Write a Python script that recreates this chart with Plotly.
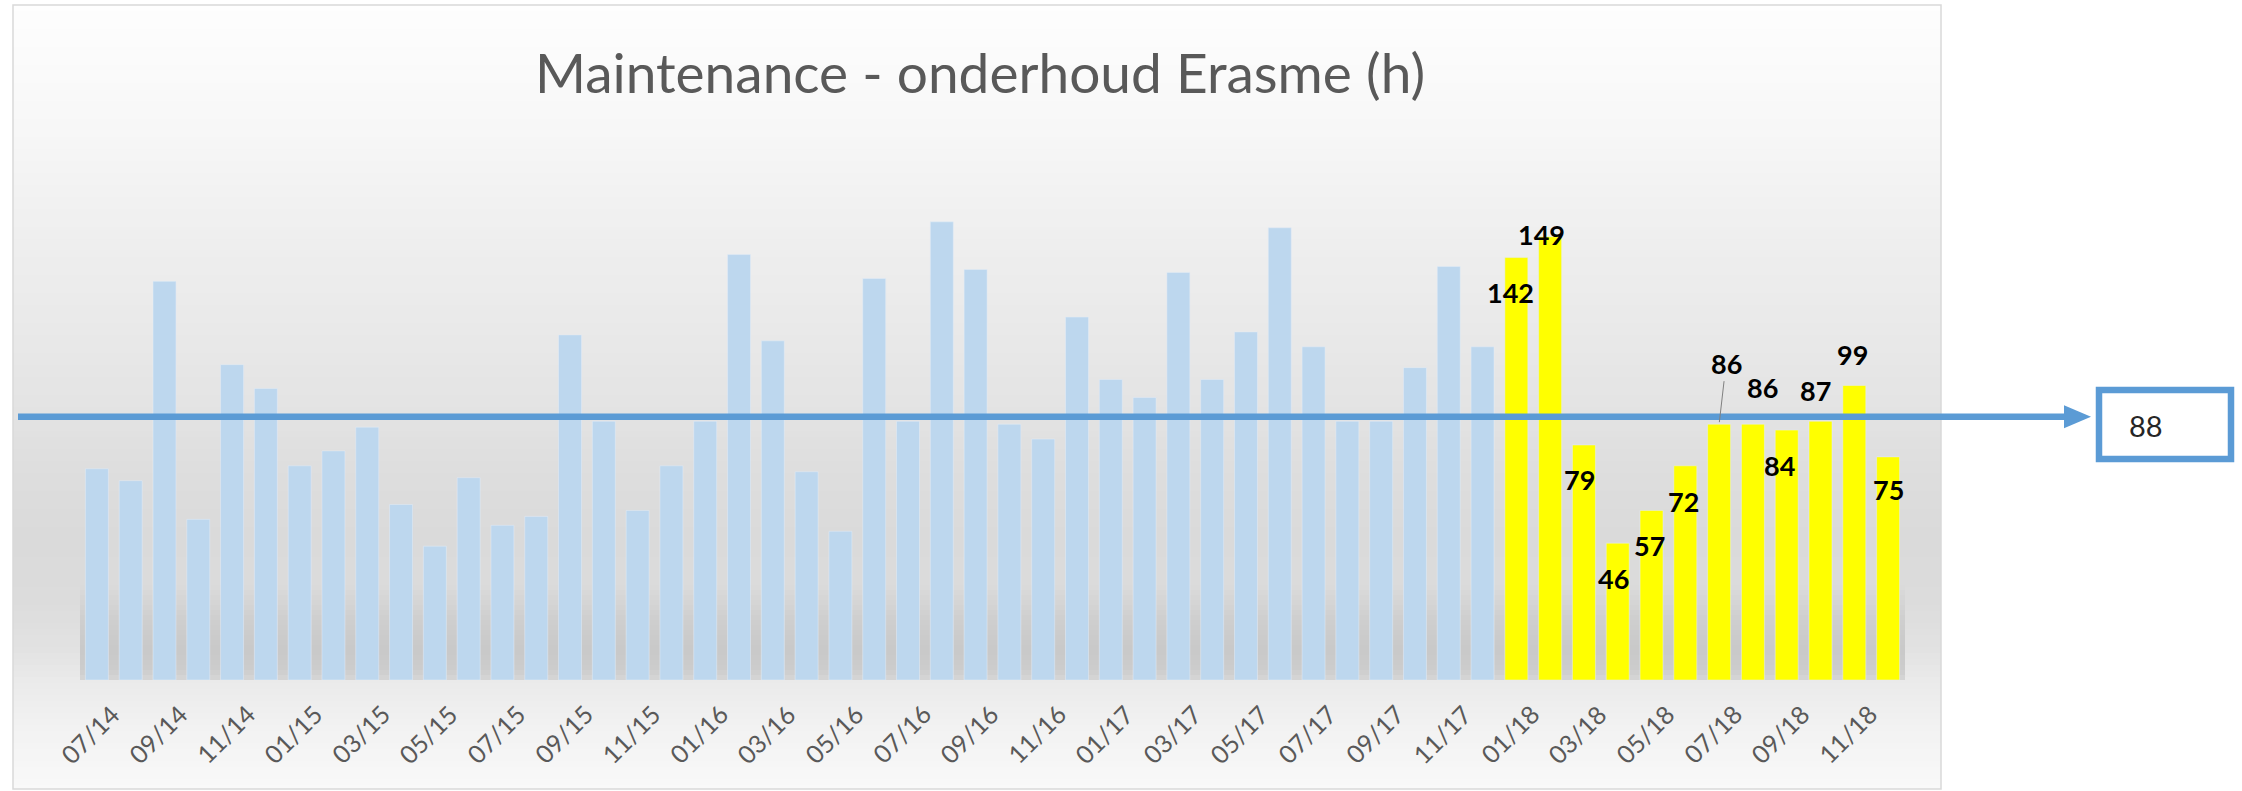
import plotly.graph_objects as go
import pandas as pd

# maanden 07/14 .. 12/18
maanden = list(pd.period_range("2014-07", "2018-12", freq="M").strftime("%m/%y"))

# uren per maand
uren_oud = [71, 67, 134, 54, 106, 98,
            72, 77, 85, 59, 45, 68, 52, 55, 116, 87, 57, 72,
            87, 143, 114, 70, 50, 135, 87, 154, 138, 86, 81, 122,
            101, 95, 137, 101, 117, 152, 112, 87, 87, 105, 139, 112]
uren_2018 = [142, 149, 79, 46, 57, 72, 86, 86, 84, 87, 99, 75]

tick_labels = maanden[::2]
gemiddelde = sum(uren_2018) / len(uren_2018)

maanden_oud = maanden[:len(uren_oud)]
maanden_2018 = maanden[len(uren_oud):]

# pixel layout van de figuur
W, H = 2242, 791
L, R, T, B = 80, 337, 150, 111
plot_w = W - L - R
plot_h = H - T - B
px_per_uur = 2.975


def px_x(px):
    return (px - L) / plot_w


def px_y(py):
    return (H - B - py) / plot_h


def grijs(stops, py):
    for (y0, g0), (y1, g1) in zip(stops, stops[1:]):
        if y0 <= py <= y1:
            g = g0 + (g1 - g0) * (py - y0) / (y1 - y0)
            return int(round(g))
    return stops[-1][1]


fig = go.Figure()
fig.add_trace(go.Bar(x=maanden_oud, y=uren_oud, marker_color="#BDD7EE", hoverinfo="x+y"))
fig.add_trace(go.Bar(x=maanden_2018, y=uren_2018, marker_color="#FFFF00", hoverinfo="x+y"))

shapes = []
# achtergrond met verloop (grafiekgebied)
achtergrond = [(5, 254), (130, 247), (200, 241), (300, 235), (400, 228), (480, 221),
               (540, 218), (600, 220), (650, 226), (680, 234), (720, 241), (789, 249)]
stap = 6
for py in range(5, 789, stap):
    g = grijs(achtergrond, py + stap / 2)
    shapes.append(dict(type="rect", xref="paper", yref="paper", layer="below",
                       x0=px_x(13), x1=px_x(1941), y0=px_y(min(py + stap, 789)), y1=px_y(py),
                       fillcolor=f"rgb({g},{g},{g})", line=dict(width=0)))
# schaduw onder de staven
schaduw = [(585, 219), (615, 208), (650, 200), (670, 205), (680, 214)]
for py in range(585, 680, 5):
    g = grijs(schaduw, py + 2.5)
    shapes.append(dict(type="rect", xref="paper", yref="paper", layer="below",
                       x0=0, x1=1, y0=px_y(py + 5), y1=px_y(py),
                       fillcolor=f"rgb({g},{g},{g})", line=dict(width=0)))
# kader
shapes.append(dict(type="rect", xref="paper", yref="paper", layer="below",
                   x0=px_x(13), x1=px_x(1941), y0=px_y(789), y1=px_y(5),
                   line=dict(color="#D9D9D9", width=1.5)))

# lijn met pijl op het gemiddelde
blauw = "#5B9BD5"
half_kop = 11.5 / px_per_uur
shapes.append(dict(type="line", xref="paper", yref="y",
                   x0=px_x(18), x1=px_x(2068), y0=gemiddelde, y1=gemiddelde,
                   line=dict(color=blauw, width=6.5)))
shapes.append(dict(type="path", xref="paper", yref="y", fillcolor=blauw, line=dict(width=0),
                   path=(f"M {px_x(2064)} {gemiddelde + half_kop} "
                         f"L {px_x(2091)} {gemiddelde} "
                         f"L {px_x(2064)} {gemiddelde - half_kop} Z")))
# kader rond gemiddelde
shapes.append(dict(type="rect", xref="paper", yref="paper",
                   x0=px_x(2099), x1=px_x(2231), y0=px_y(459), y1=px_y(390),
                   fillcolor="white", line=dict(color=blauw, width=6.5)))

annotations = []
annotations.append(dict(x=px_x(2165), xref="paper", y=px_y(425), yref="paper",
                        text=f"{gemiddelde:.0f}", showarrow=False,
                        font=dict(family="Lato", size=29, color="#262626")))

# labels boven/in de gele staven (verschuiving in pixels)
label_shift = [(-6, -35), (-9, 2), (-4, -35), (-4, -35), (-2, -35), (-2, -36),
               None, (10, 37), (-7, -35), (-5, 31), (-2, 31), (0, -33)]
for m, v, s in zip(maanden_2018, uren_2018, label_shift):
    lab = dict(x=m, y=v, xref="x", yref="y", text=str(v),
               font=dict(family="Lato", size=27, color="#000000", weight="bold"))
    if s is None:
        lab.update(showarrow=True, arrowhead=0, arrowwidth=1, arrowcolor="#808080",
                   ax=7, ay=-61, standoff=2)
    else:
        lab.update(showarrow=False, xshift=s[0], yshift=s[1])
    annotations.append(lab)

# maandlabels schuin onder de as
for m in tick_labels:
    annotations.append(dict(x=m, y=0, xref="x", yref="y", text=m, showarrow=False,
                            textangle=-45, xshift=-7, yshift=-54,
                            font=dict(family="Lato", size=25, color="#595959")))

fig.update_layout(
    width=W, height=H,
    margin=dict(l=L, r=R, t=T, b=B),
    paper_bgcolor="white",
    plot_bgcolor="rgba(0,0,0,0)",
    barmode="overlay",
    bargap=0.32,
    showlegend=False,
    title=dict(text="Maintenance - onderhoud Erasme (h)", xref="container", yref="container",
               x=980 / W, y=1 - 74 / H, xanchor="center", yanchor="middle",
               font=dict(family="Lato", size=55, color="#595959")),
    xaxis=dict(type="category", categoryorder="array", categoryarray=maanden,
               range=[-0.5, len(maanden) - 0.5],
               showticklabels=False, showgrid=False, showline=False, zeroline=False,
               ticks="", automargin=False),
    yaxis=dict(range=[0, plot_h / px_per_uur], visible=False, showgrid=False, zeroline=False),
    shapes=shapes,
    annotations=annotations,
)

fig.write_html("out.html", config={"displayModeBar": False},
               post_script="document.body.style.margin='0px';")
